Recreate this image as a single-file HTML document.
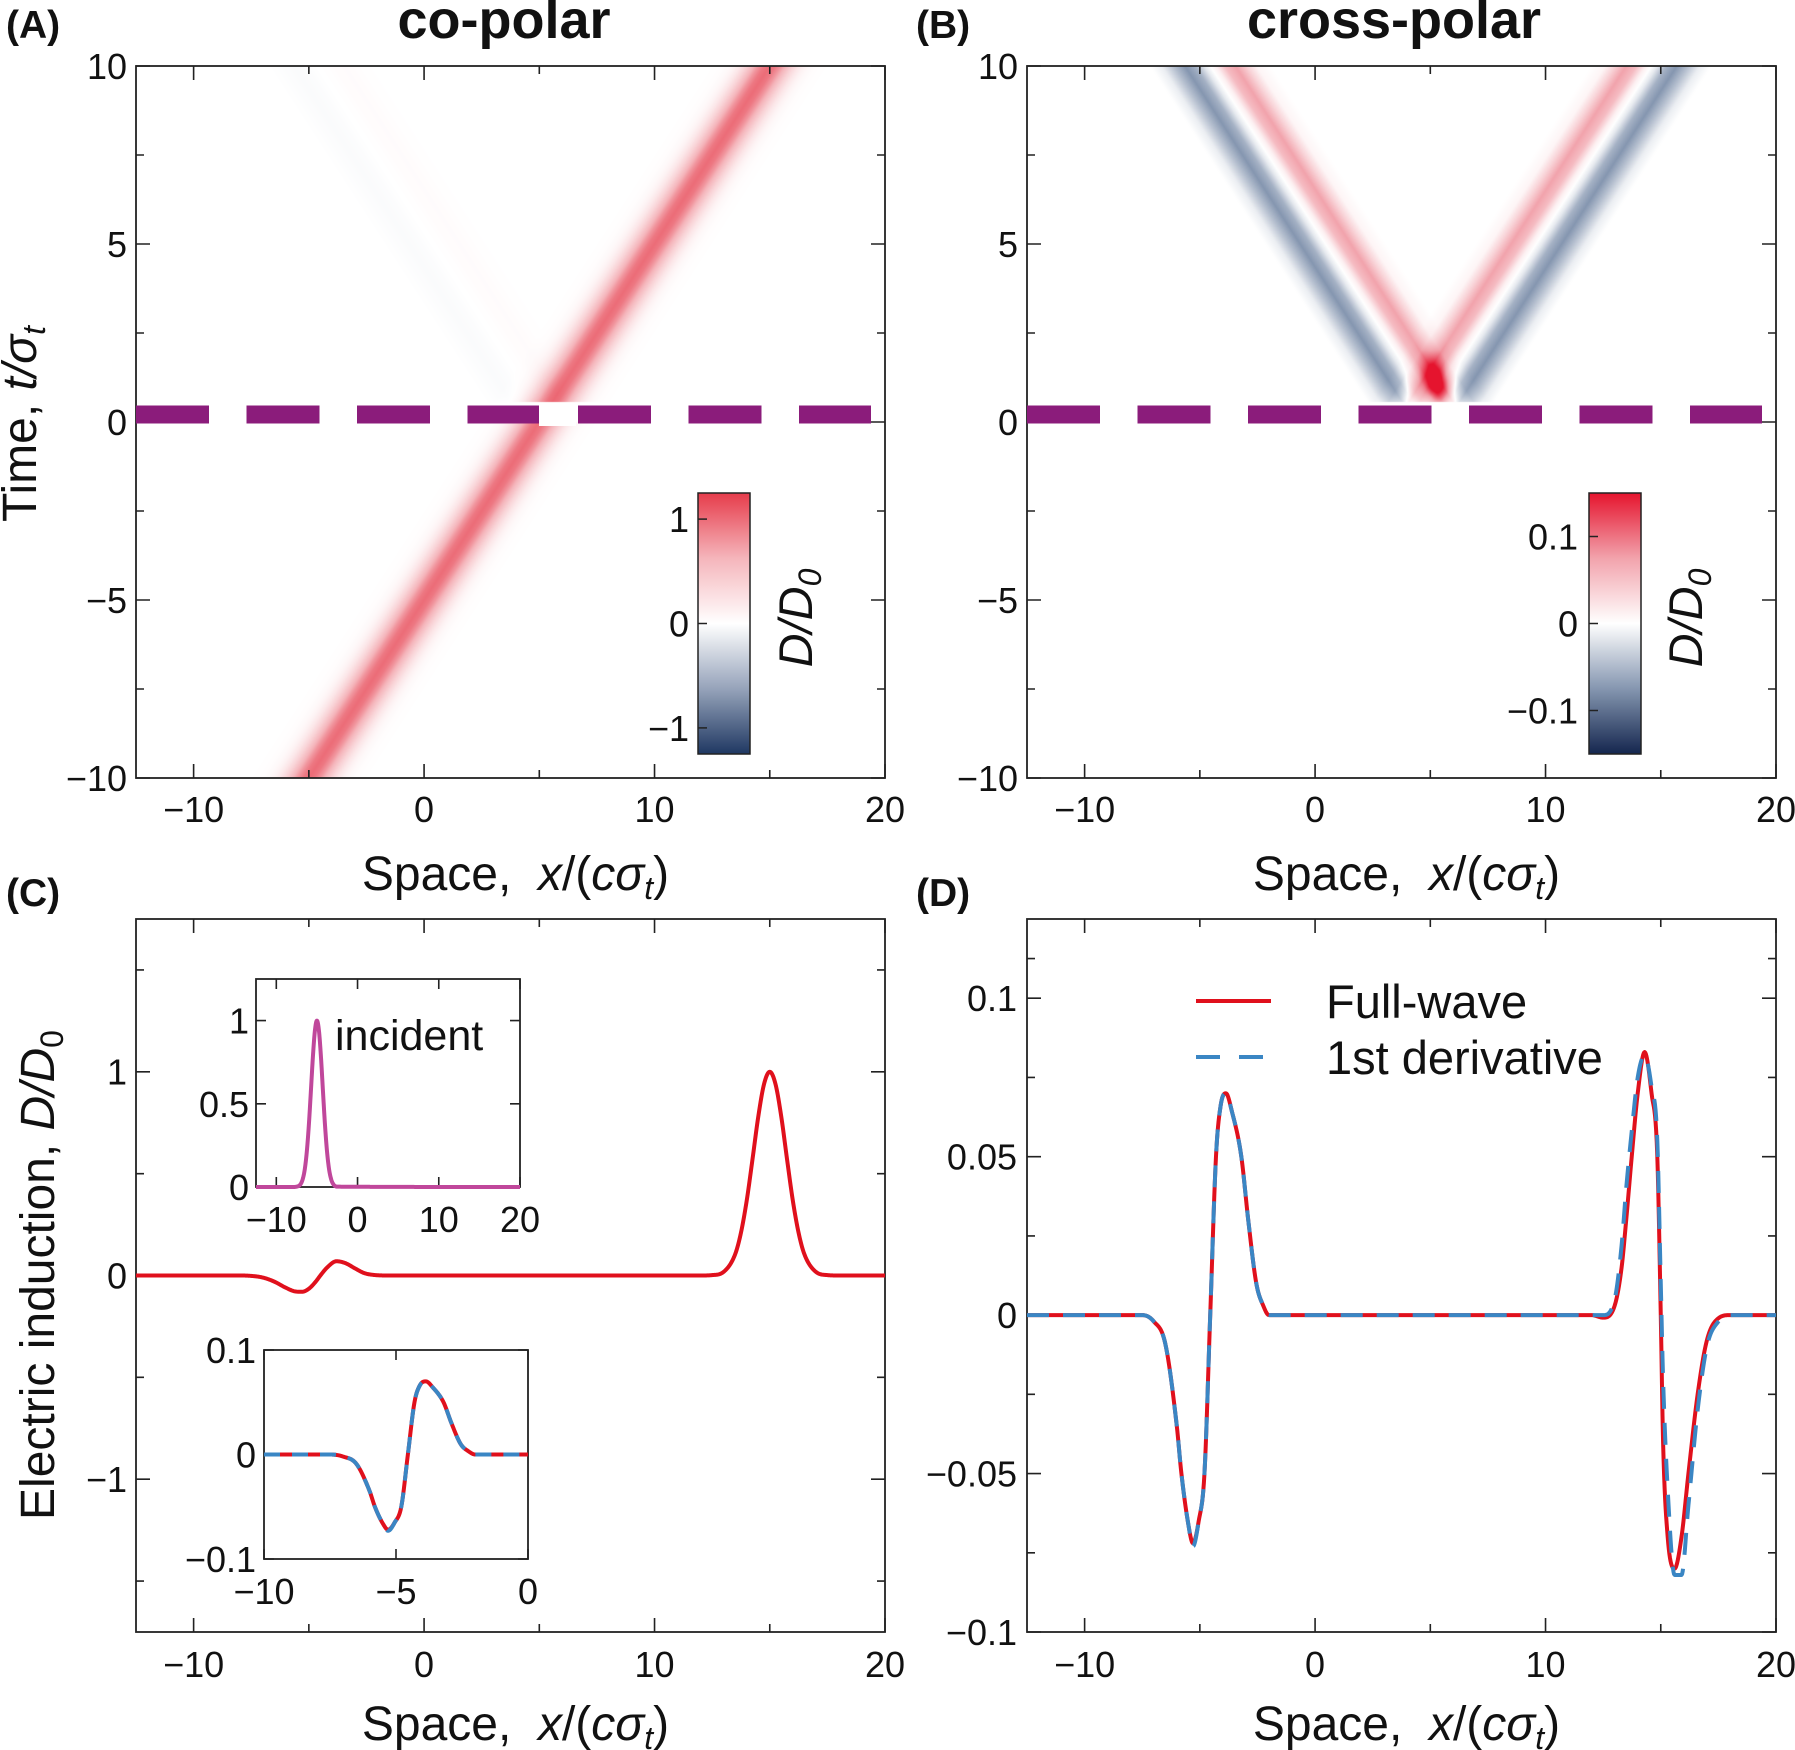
<!DOCTYPE html>
<html><head><meta charset="utf-8">
<style>
html,body{margin:0;padding:0;background:#fff;}
body{width:1795px;height:1750px;position:relative;overflow:hidden;font-family:"Liberation Sans",Arial,sans-serif;}
canvas{position:absolute;}
svg{position:absolute;left:0;top:0;}
</style></head>
<body>
<canvas id="hmA" style="left:136px;top:66px" width="749" height="712"></canvas>
<canvas id="hmB" style="left:1027px;top:66px" width="749" height="712"></canvas>
<svg id="fig" width="1795" height="1750" xmlns="http://www.w3.org/2000/svg"></svg>
<script>
// ---------- data ----------
const gaussOff = [-2.5,-2,-1.75,-1.5,-1.25,-1,-0.75,-0.5,-0.25,0,0.25,0.5,0.75,1,1.25,1.5,1.75,2,2.5];
const gaussVal = [0.002,0.018,0.047,0.105,0.21,0.368,0.57,0.779,0.939,1,0.939,0.779,0.57,0.368,0.21,0.105,0.047,0.018,0.002];
const armOff = [-2.6,-2,-1.6,-1.1,-0.65,-0.25,0,0.25,0.65,1.1,1.6,2.1,2.6];
const armVal = [0,0.008,0.035,0.075,0.055,0.012,0,-0.015,-0.055,-0.075,-0.045,-0.012,0];
const cX = [-12.5,-8,-7.5,-7,-6.5,-6,-5.6,-5.3,-5,-4.7,-4.5,-4.2,-3.8,-3.4,-3,-2.6,-2.2,-1.5,12,12.5,13,13.5,13.75,14,14.25,14.5,14.75,15,15.25,15.5,15.75,16,16.25,16.5,17,17.5,18,20];
const cY = [0,0,-0.002,-0.01,-0.03,-0.06,-0.078,-0.08,-0.065,-0.03,0,0.04,0.07,0.06,0.035,0.012,0.003,0,0,0.002,0.018,0.105,0.21,0.368,0.57,0.779,0.939,1,0.939,0.779,0.57,0.368,0.21,0.105,0.018,0.002,0,0];
const incX = [-12.5,-8,-7.5,-7,-6.75,-6.5,-6.25,-6,-5.75,-5.5,-5.25,-5,-4.75,-4.5,-4.25,-4,-3.75,-3.5,-3.25,-3,-2.5,20];
const incY = [0,0,0.002,0.018,0.047,0.105,0.21,0.368,0.57,0.779,0.939,1,0.939,0.779,0.57,0.368,0.21,0.105,0.047,0.018,0.002,0];
const dX = [-12.5,-8,-7.5,-7,-6.5,-6,-5.8,-5.5,-5.3,-5.05,-4.8,-4.55,-4.3,-4.1,-3.87,-3.6,-3.2,-2.9,-2.55,-2.25,-2,12,12.5,13,13.3,13.5,13.74,14,14.3,14.6,14.85,15,15.1,15.3,15.6,15.9,16.2,16.6,17,17.5,18,20];
const fullWave = [0,0,0,-0.002,-0.009,-0.035,-0.05,-0.066,-0.072,-0.065,-0.05,0,0.05,0.066,0.07,0.064,0.05,0.03,0.01,0.003,0,0,-0.0008,0.003,0.015,0.03,0.05,0.07,0.083,0.07,0.05,0,-0.04,-0.07,-0.08,-0.07,-0.05,-0.025,-0.008,-0.001,0,0];
const derivative = [0,0,0,-0.002,-0.009,-0.035,-0.05,-0.066,-0.073,-0.065,-0.05,0,0.05,0.066,0.07,0.064,0.05,0.03,0.01,0.003,0,0,0,0.005,0.022,0.04,0.058,0.075,0.082,0.072,0.055,0.01,-0.02,-0.055,-0.082,-0.082,-0.06,-0.03,-0.01,-0.002,0,0];
const xTicks = [-10,0,10,20];
const xTickLabels = ["−10","0","10","20"];
const tTicks = [-10,-5,0,5,10];
const tTickLabels = ["−10","−5","0","5","10"];
const cTicks = [-1,0,1];
const cTickLabels = ["−1","0","1"];
const dTicks = [-0.1,-0.05,0,0.05,0.1];
const dTickLabels = ["−0.1","−0.05","0","0.05","0.1"];

// ---------- helpers ----------
const NS="http://www.w3.org/2000/svg";
const svg=document.getElementById('fig');
function mk(tag,attrs,parent,text){const e=document.createElementNS(NS,tag);for(const k in attrs)e.setAttribute(k,attrs[k]);if(text!==undefined)e.textContent=text;(parent||svg).appendChild(e);return e;}
function interp(xs,ys,x){if(x<=xs[0])return ys[0];if(x>=xs[xs.length-1])return ys[ys.length-1];for(let i=1;i<xs.length;i++){if(x<=xs[i]){const f=(x-xs[i-1])/(xs[i]-xs[i-1]);return ys[i-1]+f*(ys[i]-ys[i-1]);}}return 0;}
function monoPts(xs,ys){const n=xs.length,d=[],m=new Array(n).fill(0);for(let i=0;i<n-1;i++)d.push((ys[i+1]-ys[i])/(xs[i+1]-xs[i]));m[0]=d[0];m[n-1]=d[n-2];for(let i=1;i<n-1;i++){m[i]=(d[i-1]*d[i]<=0)?0:(d[i-1]+d[i])/2;}
 for(let i=0;i<n-1;i++){if(d[i]===0){m[i]=0;m[i+1]=0;continue;}const a=m[i]/d[i],b=m[i+1]/d[i],s=a*a+b*b;if(s>9){const t=3/Math.sqrt(s);m[i]=t*a*d[i];m[i+1]=t*b*d[i];}}
 const out=[];for(let i=0;i<n-1;i++){const h=xs[i+1]-xs[i],N=Math.max(2,Math.ceil(h*40));for(let k=0;k<N;k++){const t=k/N,t2=t*t,t3=t2*t;const y=(2*t3-3*t2+1)*ys[i]+(t3-2*t2+t)*h*m[i]+(-2*t3+3*t2)*ys[i+1]+(t3-t2)*h*m[i+1];out.push([xs[i]+t*h,y]);}}out.push([xs[n-1],ys[n-1]]);return out;}
function scale(d0,d1,r0,r1){return v=>r0+(v-d0)/(d1-d0)*(r1-r0);}
const FONT='"Liberation Sans", Arial, sans-serif';
const TF=36;

function frame(name,L,T,R,B,xs,ys,xMaj,xMin,yMaj,yMin,ml,mn){
 const g=mk('g',{});
 
 
 let d='';
 xMaj.forEach(v=>{const x=xs(v);d+=`M${x},${B}V${B-ml}M${x},${T}V${T+ml}`;});
 xMin.forEach(v=>{const x=xs(v);d+=`M${x},${B}V${B-mn}M${x},${T}V${T+mn}`;});
 yMaj.forEach(v=>{const y=ys(v);d+=`M${L},${y}H${L+ml}M${R},${y}H${R-ml}`;});
 yMin.forEach(v=>{const y=ys(v);d+=`M${L},${y}H${L+mn}M${R},${y}H${R-mn}`;});
 mk('path',{d:d,stroke:'#222','stroke-width':1.6,fill:'none'},g);
 mk('rect',{x:L,y:T,width:R-L,height:B-T,fill:'none',stroke:'#222','stroke-width':1.8},g);
 return g;}
function xLabels(g,xs,ticks,labels,y,size){ticks.forEach((v,i)=>{mk('text',{x:xs(v),y:y,'font-size':size,'font-family':FONT,'text-anchor':'middle',fill:'#111'},g,labels[i]);});}
function yLabels(g,ys,ticks,labels,x,size){ticks.forEach((v,i)=>{mk('text',{x:x,y:ys(v)+size*0.36,'font-size':size,'font-family':FONT,'text-anchor':'end',fill:'#111'},g,labels[i]);});}
function curve(g,xs,ys,X,Y,color,w,dash,name,xmin,xmax){const pts=monoPts(X,Y).filter(p=>p[0]>=xmin-1e-9&&p[0]<=xmax+1e-9);const d='M'+pts.map(p=>xs(p[0]).toFixed(2)+','+ys(p[1]).toFixed(2)).join('L');const a={d:d,stroke:color,'stroke-width':w,fill:'none','stroke-linejoin':'round'};if(dash)a['stroke-dasharray']=dash;const p=mk('path',a,g);return p;}
function xTitle(g,cx,y){const t=mk('text',{x:cx,y:y,'font-size':48,'font-family':FONT,'text-anchor':'middle',fill:'#111'},g);
 mk('tspan',{},t,'Space,\u00a0\u00a0');mk('tspan',{'font-style':'italic'},t,'x');mk('tspan',{},t,'/(');mk('tspan',{'font-style':'italic'},t,'cσ');mk('tspan',{'font-style':'italic','font-size':32,dy:9},t,'t');mk('tspan',{dy:-9},t,')');}

// ---------- colormaps & heatmaps ----------
function cmap(stops,n){n=Math.max(-1,Math.min(1,n));for(let i=1;i<stops.length;i++){if(n<=stops[i][0]){const a=stops[i-1],b=stops[i],f=(n-a[0])/(b[0]-a[0]);return [0,1,2].map(k=>Math.round(a[1][k]+f*(b[1][k]-a[1][k])));}}return stops[stops.length-1][1];}
const stopsA=[[-1,[31,56,98]],[-0.5,[150,163,186]],[0,[255,255,255]],[0.5,[245,181,187]],[1,[230,60,75]]];
const stopsB=[[-1,[20,38,78]],[-0.5,[133,150,176]],[0,[255,255,255]],[0.5,[242,163,172]],[1,[229,20,46]]];
const XMIN=-12.5,XMAX=20,TMIN=-10,TMAX=10;
function drawHeat(id,fn,stops,vmax){const c=document.getElementById(id),ctx=c.getContext('2d'),W=c.width,H=c.height,img=ctx.createImageData(W,H);
 for(let py=0;py<H;py++){const t=TMAX-(py+0.5)/H*(TMAX-TMIN);for(let px=0;px<W;px++){const x=XMIN+(px+0.5)/W*(XMAX-XMIN);const v=fn(x,t);const col=cmap(stops,v/vmax);const o=(py*W+px)*4;img.data[o]=col[0];img.data[o+1]=col[1];img.data[o+2]=col[2];img.data[o+3]=255;}}
 ctx.putImageData(img,0,0);}
drawHeat('hmA',(x,t)=>{if(t>0&&t<0.55)return 0;let v=interp(gaussOff,gaussVal,x-(5+t));if(t>=0.55){v+=0.4*interp(armOff,armVal,(5.45-t)-x);}return v;},stopsA,1.25);
drawHeat('hmB',(x,t)=>{if(t<0.55)return 0;let v=interp(armOff,armVal,(5.45-t)-x)+interp(armOff,armVal,x-(4.6+t));const dx=x-5.3,dt=t-1.0;v+=0.1*Math.exp(-(dx*dx)/0.2-(dt*dt)/0.25);return v;},stopsB,0.15);

// ---------- panel A & B frames ----------
function heatPanel(tag,L,R,title,tagX,titleX,cbL,cbLabels,cbTicks,cbMax,stops,cbLabelRight,dlabX){
 const T=66,B=778;const xs=scale(XMIN,XMAX,L,R),ys=scale(TMIN,TMAX,B,T);
 const g=frame('panel-'+tag.toLowerCase(),L,T,R,B,xs,ys,xTicks,[-5,5,15],tTicks,[-7.5,-2.5,2.5,7.5],14,8);
 const dl=mk('line',{x1:L,x2:R-14,y1:414.5,y2:414.5,stroke:'#8b1c7b','stroke-width':18,'stroke-dasharray':'73 37.5'},g);
 
 xLabels(g,xs,xTicks,xTickLabels,822,TF);
 yLabels(g,ys,tTicks,tTickLabels,L-9,TF);
 xTitle(g,(L+R)/2+5,890);
 const tt=mk('text',{x:titleX,y:38,'font-size':54,'font-weight':'bold','font-family':FONT,'text-anchor':'middle',fill:'#111'},g,title);
 
 const pl=mk('text',{x:tagX,y:38,'font-size':39,'font-weight':'bold','font-family':FONT,fill:'#111'},g,'('+tag+')');
 
 const cb=mk('g',{},g);
 const gid='grad'+tag;const defs=mk('defs',{},cb);const lg=mk('linearGradient',{id:gid,x1:0,y1:1,x2:0,y2:0},defs);
 for(let i=0;i<=20;i++){const n=-1+i/10;const c=cmap(stops,n);mk('stop',{offset:(i/20),'stop-color':`rgb(${c[0]},${c[1]},${c[2]})`},lg);}
 const cT=493,cB=754,cs=scale(-cbMax,cbMax,cB,cT);
 mk('rect',{x:cbL,y:cT,width:52,height:cB-cT,fill:`url(#${gid})`,stroke:'#222','stroke-width':1.5},cb);
 cbTicks.forEach((v,i)=>{mk('line',{x1:cbL,x2:cbL+9,y1:cs(v),y2:cs(v),stroke:'#222','stroke-width':1.5},cb);mk('text',{x:cbLabelRight,y:cs(v)+13,'font-size':TF,'font-family':FONT,'text-anchor':'end',fill:'#111'},cb,cbLabels[i]);});
 const lab=mk('text',{transform:`translate(${dlabX},618) rotate(-90)`,'font-size':47,'font-family':FONT,'font-style':'italic','text-anchor':'middle',fill:'#111'},cb);
 mk('tspan',{},lab,'D/D');mk('tspan',{'font-size':32,dy:9},lab,'0');
 return g;}
heatPanel('A',136,885,'co-polar',6,504,698,["−1","0","1"],[-1,0,1],1.25,stopsA,689,812);
heatPanel('B',1027,1776,'cross-polar',916,1394,1589,["−0.1","0","0.1"],[-0.1,0,0.1],0.15,stopsB,1578,1702);
const gap=mk('rect',{x:539,y:403,width:37,height:23,fill:'#fff'});

{const t=mk('text',{transform:'translate(36,424) rotate(-90)','font-size':48,'font-family':FONT,'text-anchor':'middle',fill:'#111'});
 
 mk('tspan',{},t,'Time, ');mk('tspan',{'font-style':'italic'},t,'t/σ');mk('tspan',{'font-style':'italic','font-size':32,dy:9},t,'t');}

// ---------- panel C ----------
{const L=136,R=885,T=919,B=1632;const xs=scale(XMIN,XMAX,L,R),ys=scale(-1.75,1.75,B,T);
 const g=frame('panel-c',L,T,R,B,xs,ys,xTicks,[-5,5,15],cTicks,[-1.5,-0.5,0.5,1.5],14,8);
 xLabels(g,xs,xTicks,xTickLabels,1677,TF);yLabels(g,ys,cTicks,cTickLabels,L-9,TF);xTitle(g,(L+R)/2+5,1740);
 const pl=mk('text',{x:6,y:906,'font-size':39,'font-weight':'bold','font-family':FONT,fill:'#111'},g,'(C)');
 const yt=mk('text',{transform:'translate(54,1275) rotate(-90)','font-size':48,'font-family':FONT,'text-anchor':'middle',fill:'#111'},g);
 
 mk('tspan',{},yt,'Electric induction, ');mk('tspan',{'font-style':'italic'},yt,'D/D');mk('tspan',{'font-size':32,dy:9},yt,'0');
 curve(g,xs,ys,cX,cY,'#e0101c',4,null,'co-polar-profile',XMIN,XMAX);
 {const l=256,r=520,t=979,b=1187;const ix=scale(-12.5,20,l,r),iy=scale(0,1.25,b,t);
  const gi=frame('inset-incident',l,t,r,b,ix,iy,[-10,0,10,20],[],[0,0.5,1],[],10,6);
  xLabels(gi,ix,[-10,0,10,20],["−10","0","10","20"],1232,TF);yLabels(gi,iy,[0,0.5,1],["0","0.5","1"],249,TF);
  curve(gi,ix,iy,incX,incY,'#c0479b',4,null,'incident-pulse',-12.5,20);
  mk('text',{x:335,y:1050,'font-size':43,'font-family':FONT,fill:'#111'},gi,'incident');}
 {const l=264,r=528,t=1350,b=1559;const ix=scale(-10,0,l,r),iy=scale(-0.1,0.1,b,t);
  const gi=frame('inset-zoom',l,t,r,b,ix,iy,[-10,-5,0],[],[-0.1,0,0.1],[],10,6);
  xLabels(gi,ix,[-10,-5,0],["−10","−5","0"],1604,TF);yLabels(gi,iy,[-0.1,0,0.1],["−0.1","0","0.1"],256,TF);
  curve(gi,ix,iy,dX,fullWave,'#e0101c',4,null,'inset-full-wave',-10,0);
  curve(gi,ix,iy,dX,derivative,'#3a86c4',4,'16 12','inset-derivative',-10,0);}
}
// ---------- panel D ----------
{const L=1027,R=1776,T=919,B=1632;const xs=scale(XMIN,XMAX,L,R),ys=scale(-0.1,0.125,B,T);
 const g=frame('panel-d',L,T,R,B,xs,ys,xTicks,[-5,5,15],dTicks,[-0.075,-0.025,0.025,0.075,0.1125],14,8);
 xLabels(g,xs,xTicks,xTickLabels,1677,TF);yLabels(g,ys,dTicks,dTickLabels,L-10,TF);xTitle(g,(L+R)/2+5,1740);
 const pl=mk('text',{x:916,y:906,'font-size':39,'font-weight':'bold','font-family':FONT,fill:'#111'},g,'(D)');
 curve(g,xs,ys,dX,fullWave,'#e0101c',4,null,'full-wave-line',XMIN,XMAX);
 curve(g,xs,ys,dX,derivative,'#3a86c4',4,'22 14','derivative-line',XMIN,XMAX);
 const lg=mk('g',{},g);
 mk('line',{x1:1196,x2:1271,y1:1001,y2:1001,stroke:'#e0101c','stroke-width':4},lg);
 mk('line',{x1:1196,x2:1271,y1:1057,y2:1057,stroke:'#3a86c4','stroke-width':4,'stroke-dasharray':'24 19'},lg);
 mk('text',{x:1326,y:1018,'font-size':47,'font-family':FONT,fill:'#111'},lg,'Full-wave');
 mk('text',{x:1326,y:1074,'font-size':47,'font-family':FONT,fill:'#111'},lg,'1st derivative');
}
</script>
</body></html>
